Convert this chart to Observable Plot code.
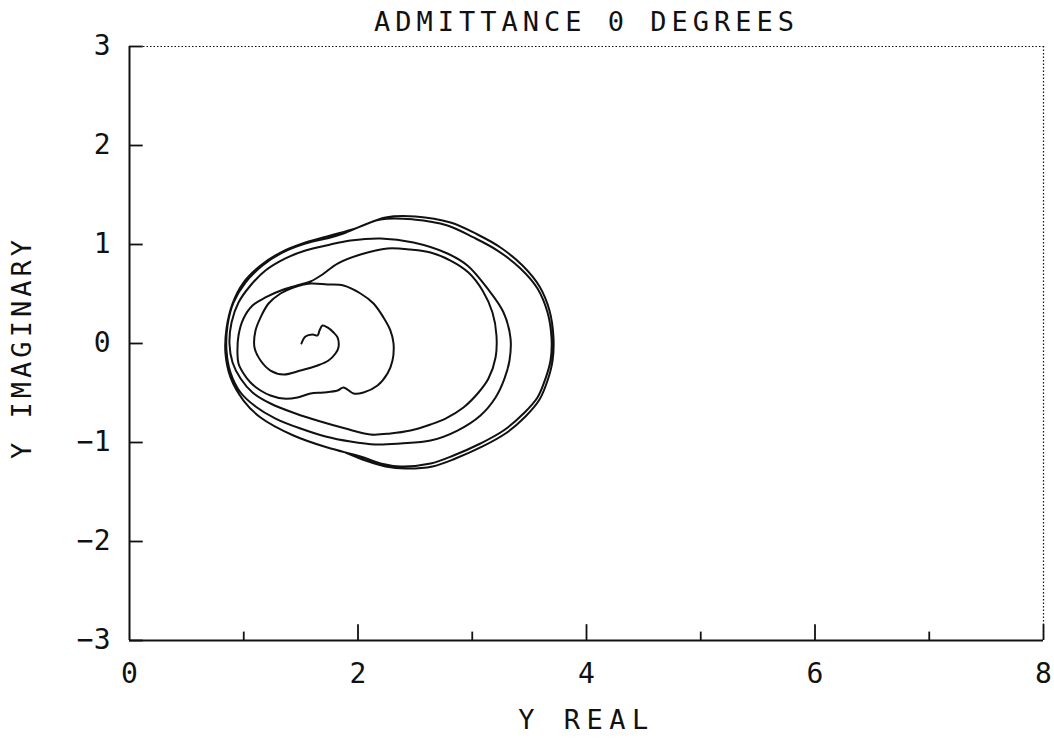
<!DOCTYPE html>
<html>
<head>
<meta charset="utf-8">
<script src="https://cdn.jsdelivr.net/npm/d3@7"></script>
<script src="https://cdn.jsdelivr.net/npm/@observablehq/plot@0.6"></script>
<style>
  body { margin: 0; background: #fff; }
  svg { display: block; }
</style>
</head>
<body>
<div id="chart"></div>
<script>
// Axis ticks and labels
const xTicks = [0, 2, 4, 6, 8];
const xTickLabels = ["0", "2", "4", "6", "8"];
const xMinorTicks = [1, 3, 5, 7];
const yTicks = [-3, -2, -1, 0, 1, 2, 3];
const yTickLabels = ["−3", "−2", "−1", "0", "1", "2", "3"];
const titleText = "ADMITTANCE 0 DEGREES";
const xLabelText = "Y REAL";
const yLabelText = "Y IMAGINARY";

// Admittance locus, in order of tracing
const spiralRe = [1.505,1.540,1.602,1.646,1.663,1.689,1.733,1.786,1.821,1.829,1.803,1.742,1.646,1.497,1.348,1.234,1.147,1.094,1.103,1.147,1.217,1.322,1.435,1.584,1.733,1.873,2.022,2.136,2.223,2.284,2.311,2.302,2.258,2.171,2.048,1.961,1.873];
const spiralIm = [0,0.071,0.091,0.081,0.131,0.182,0.162,0.111,0.061,-0.040,-0.101,-0.172,-0.222,-0.273,-0.313,-0.273,-0.172,-0.040,0.131,0.263,0.404,0.505,0.566,0.606,0.596,0.586,0.505,0.404,0.263,0.131,0,-0.172,-0.303,-0.424,-0.495,-0.505,-0.444];

const returnRe = [1.821,1.698,1.584,1.470,1.348,1.234,1.147,1.059,0.998,0.954,0.945,0.954,0.998,1.077,1.190,1.348,1.497,1.584,1.689,1.821,2.022,2.258];
const returnIm = [-0.475,-0.495,-0.505,-0.545,-0.556,-0.525,-0.475,-0.394,-0.303,-0.202,-0.101,0.081,0.253,0.384,0.465,0.545,0.596,0.626,0.697,0.808,0.899,0.960];

const loop1Re = [2.459,2.635,2.810,2.967,3.090,3.177,3.212,3.204,3.142,3.055,2.923,2.766,2.635,2.459,2.284,2.109,1.891,1.672,1.453,1.234,1.077,0.972,0.902,0.875,0.893,0.954,1.059,1.190,1.365,1.540,1.759,1.934];
const loop1Im = [0.949,0.919,0.838,0.717,0.535,0.313,0.081,-0.141,-0.354,-0.495,-0.646,-0.758,-0.818,-0.879,-0.909,-0.919,-0.859,-0.788,-0.707,-0.606,-0.495,-0.354,-0.192,0,0.212,0.414,0.586,0.737,0.859,0.939,1.000,1.040];

const loop2Re = [2.197,2.486,2.783,2.958,3.133,3.274,3.335,3.326,3.282,3.204,3.072,2.871,2.635,2.372,2.153,1.934,1.716,1.497,1.278,1.103,0.972,0.884,0.849,0.858,0.910,1.015,1.164,1.339,1.540,1.759];
const loop2Im = [1.061,1.020,0.909,0.788,0.556,0.313,0.051,-0.172,-0.354,-0.545,-0.727,-0.879,-0.980,-1.010,-1.020,-0.990,-0.939,-0.859,-0.758,-0.636,-0.495,-0.293,-0.071,0.182,0.414,0.616,0.788,0.919,1.010,1.071];

const loop3Re = [1.873,2.197,2.486,2.783,3.011,3.221,3.422,3.571,3.659,3.694,3.685,3.641,3.571,3.449,3.274,3.072,2.836,2.635,2.372,2.197,2.022,1.733,1.435,1.147,0.998,0.884,0.840,0.849,0.902,0.998,1.147,1.322,1.540,1.759,1.978];
const loop3Im = [1.111,1.253,1.253,1.192,1.071,0.939,0.758,0.556,0.313,0.051,-0.172,-0.354,-0.545,-0.707,-0.879,-1.010,-1.131,-1.212,-1.242,-1.212,-1.141,-1.051,-0.929,-0.747,-0.576,-0.343,-0.101,0.152,0.404,0.616,0.788,0.919,1.020,1.091,1.162];

const loop4Re = [2.241,2.503,2.810,3.046,3.247,3.440,3.589,3.676,3.711,3.703,3.659,3.589,3.466,3.291,3.090,2.853,2.652,2.416,2.241,2.066,1.891];
const loop4Im = [1.273,1.283,1.222,1.101,0.970,0.788,0.576,0.333,0.061,-0.172,-0.374,-0.566,-0.737,-0.909,-1.040,-1.162,-1.242,-1.263,-1.242,-1.182,-1.101];

const segments = [
  [spiralRe, spiralIm], [returnRe, returnIm], [loop1Re, loop1Im],
  [loop2Re, loop2Im], [loop3Re, loop3Im], [loop4Re, loop4Im]
];
const locus = segments.flatMap(([re, im]) => re.map((r, i) => ({re: r, im: im[i]})));

const font = "DejaVu Sans Mono";
const ink = "#111";

const chart = Plot.plot({
  width: 1054,
  height: 743,
  marginLeft: 129,
  marginRight: 11,
  marginTop: 46,
  marginBottom: 103,
  style: {background: "#fff", overflow: "visible"},
  x: {domain: [0, 8], axis: null},
  y: {domain: [-3, 3], axis: null},
  marks: [
    // frame: solid left/bottom, dotted top/right
    Plot.ruleY([3], {stroke: ink, strokeWidth: 1.2, strokeDasharray: "1.5,2"}),
    Plot.ruleX([8], {stroke: ink, strokeWidth: 1.2, strokeDasharray: "1.5,2"}),
    Plot.ruleX([0], {stroke: ink, strokeWidth: 2}),
    Plot.ruleY([-3], {stroke: ink, strokeWidth: 2}),
    // inward ticks
    Plot.ruleY(yTicks, {x1: 0, x2: 0.12, stroke: ink, strokeWidth: 1.8}),
    Plot.ruleX(xTicks.slice(1), {y1: -3, y2: -2.84, stroke: ink, strokeWidth: 1.8}),
    Plot.ruleX(xMinorTicks, {y1: -3, y2: -2.915, stroke: ink, strokeWidth: 1.8}),
    // tick labels
    Plot.text(xTicks, {x: d => d, y: -3, text: (d, i) => xTickLabels[i], dy: 34, fontFamily: font, fontSize: 28, fill: ink}),
    Plot.text(yTicks, {x: 0, y: d => d, text: (d, i) => yTickLabels[i], dx: -19, textAnchor: "end", fontFamily: font, fontSize: 28, fill: ink}),
    // titles
    Plot.text([titleText], {frameAnchor: "top", lineAnchor: "middle", dy: -24, fontFamily: font, fontSize: 27, fill: ink}),
    Plot.text([xLabelText], {frameAnchor: "bottom", lineAnchor: "middle", dy: 80, fontFamily: font, fontSize: 27, fill: ink}),
    Plot.text([yLabelText], {frameAnchor: "left", textAnchor: "middle", lineAnchor: "middle", dx: -107, dy: 4, rotate: -90, fontFamily: font, fontSize: 27, fill: ink}),
    // the locus
    Plot.line(locus, {x: "re", y: "im", stroke: ink, strokeWidth: 2, strokeLinejoin: "round", curve: "catmull-rom"})
  ]
});
document.getElementById("chart").appendChild(chart);

// plotter-style letter spacing for the titles
const spacing = {[titleText]: "5px", [xLabelText]: "6.5px", [yLabelText]: "4px"};
d3.select(chart).selectAll("text").each(function () {
  const s = spacing[this.textContent];
  if (s) this.style.letterSpacing = s;
});
</script>
</body>
</html>
